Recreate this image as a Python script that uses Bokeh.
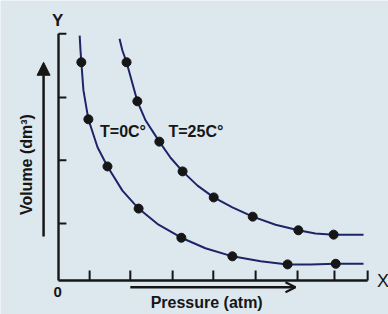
from bokeh.plotting import figure
from bokeh.models import Arrow, NormalHead, OpenHead, Range1d, Label
from bokeh.embed import file_html
from bokeh.resources import INLINE

# ---- data (arbitrary units) ----
# traced curve for T = 0 C
t0_curve_x = [0.51, 0.53, 0.55, 0.60, 0.72, 0.94, 1.18, 1.54, 1.93, 2.41, 2.96, 3.54, 4.19, 4.87, 5.52, 6.07, 6.68, 7.35]
t0_curve_y = [3.95, 3.71, 3.52, 3.07, 2.60, 2.15, 1.84, 1.45, 1.16, 0.90, 0.69, 0.52, 0.39, 0.31, 0.26, 0.26, 0.27, 0.27]
# measured points for T = 0 C
t0_pts_x = [0.55, 0.72, 1.18, 1.93, 2.96, 4.19, 5.52, 6.68]
t0_pts_y = [3.52, 2.60, 1.84, 1.16, 0.69, 0.39, 0.26, 0.27]
# traced curve for T = 25 C
t25_curve_x = [1.47, 1.54, 1.64, 1.78, 1.90, 2.10, 2.43, 2.70, 2.99, 3.35, 3.74, 4.19, 4.68, 5.23, 5.78, 6.19, 6.63, 7.35]
t25_curve_y = [3.90, 3.71, 3.52, 3.18, 2.89, 2.58, 2.24, 1.98, 1.76, 1.53, 1.34, 1.18, 1.03, 0.90, 0.81, 0.76, 0.74, 0.74]
# measured points for T = 25 C
t25_pts_x = [1.64, 1.90, 2.43, 2.99, 3.74, 4.68, 5.78, 6.63]
t25_pts_y = [3.52, 2.89, 2.24, 1.76, 1.34, 1.03, 0.81, 0.74]

x_ticks = [0.75, 1.73, 2.75, 3.73, 4.75, 5.76, 6.65, 7.45]
y_ticks = [0.92, 1.94, 2.95, 3.98]
x_axis_end = 7.45
y_axis_end = 3.98

series_labels = ["T=0C°", "T=25C°"]

BG = "#dce8ee"
INK = "#161616"
CURVE = "#1d2566"

p = figure(width=388, height=314, output_backend="svg", toolbar_location=None,
           x_range=Range1d(-1.398, 7.952), y_range=Range1d(-0.548, 4.516),
           x_axis_location=None, y_axis_location=None,
           min_border=0, min_border_left=0, min_border_right=0,
           min_border_top=0, min_border_bottom=0)
p.grid.visible = False
p.outline_line_color = None
p.background_fill_color = BG
p.border_fill_color = BG

# axes drawn as lines
p.line([0, 0], [0, y_axis_end], line_color=INK, line_width=2.4)
p.line([0, x_axis_end], [0, 0], line_color=INK, line_width=2.4)
p.segment(x0=x_ticks, y0=[0] * len(x_ticks), x1=x_ticks, y1=[0.16] * len(x_ticks),
          line_color=INK, line_width=2)
p.segment(x0=[0] * len(y_ticks), y0=y_ticks, x1=[0.19] * len(y_ticks), y1=y_ticks,
          line_color=INK, line_width=2)

# curves
p.line(t0_curve_x, t0_curve_y, line_color=CURVE, line_width=2)
p.line(t25_curve_x, t25_curve_y, line_color=CURVE, line_width=2)
p.scatter(t0_pts_x, t0_pts_y, size=9, color=INK)
p.scatter(t25_pts_x, t25_pts_y, size=9, color=INK)

# arrows
p.add_layout(Arrow(end=NormalHead(size=13, fill_color=INK, line_color=INK),
                   x_start=-0.36, y_start=0.71, x_end=-0.36, y_end=3.52,
                   line_color=INK, line_width=2.5))
p.add_layout(Arrow(end=OpenHead(size=10, line_color=INK, line_width=2.2),
                   x_start=1.73, y_start=-0.11, x_end=5.71, y_end=-0.11,
                   line_color=INK, line_width=2.5))

def lab(x, y, t, size, align="left", base="middle", angle=0.0, style="bold"):
    p.add_layout(Label(x=x, y=y, text=t, text_font="Liberation Sans",
                       text_font_size=size, text_color=INK, text_align=align,
                       text_baseline=base, angle=angle, text_font_style=style))

lab(-0.02, 4.19, "Y", "17px", align="center")
lab(7.82, 0.0, "X", "18px", align="center", style="normal")
lab(-0.02, -0.18, "0", "15px", align="center")
lab(-0.77, 1.87, "Volume (dm³)", "16px", align="center", angle=1.5708)
lab(3.57, -0.36, "Pressure (atm)", "16px", align="center")
lab(1.00, 2.40, series_labels[0], "16px")
lab(2.65, 2.40, series_labels[1], "16px")

open("out.html", "w").write(file_html(p, INLINE))
